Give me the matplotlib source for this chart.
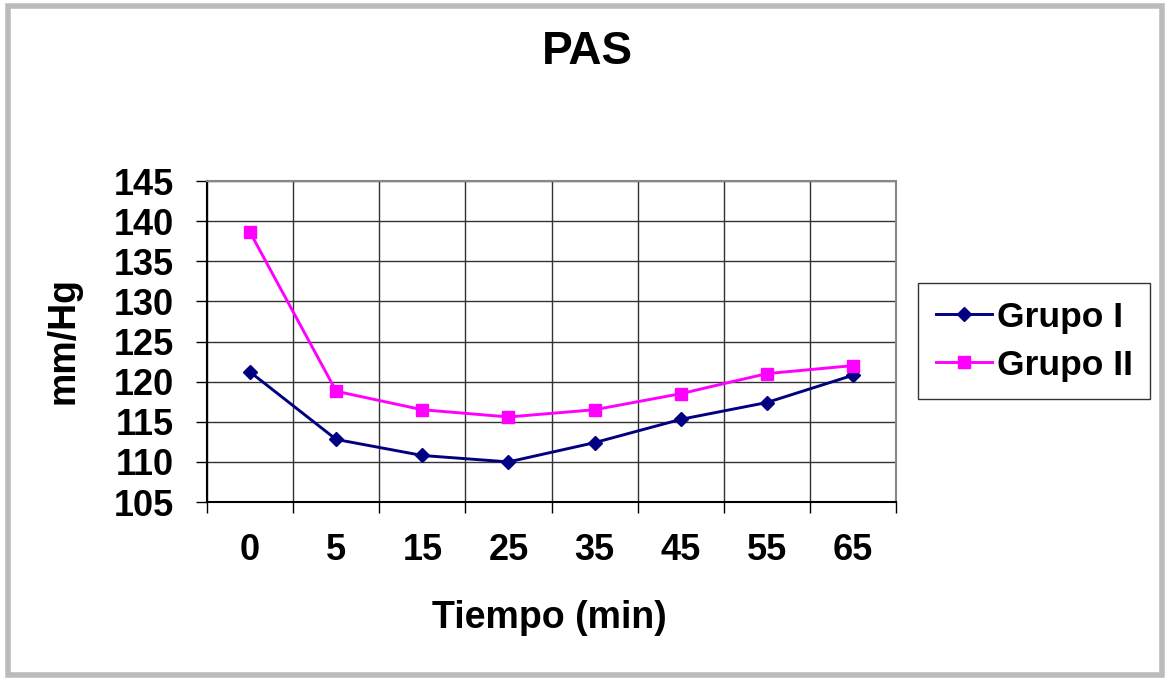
import matplotlib
matplotlib.use("Agg")
import matplotlib.pyplot as plt
from matplotlib.patches import Rectangle

plt.rcParams['font.family'] = ['Liberation Sans', 'DejaVu Sans']
plt.rcParams['font.weight'] = 'bold'

tiempos = ["0", "5", "15", "25", "35", "45", "55", "65"]
grupo1 = [121.2, 112.8, 110.8, 110.0, 112.4, 115.3, 117.4, 120.8]
grupo2 = [138.6, 118.8, 116.5, 115.6, 116.5, 118.5, 121.0, 122.0]
y_ticks = [105, 110, 115, 120, 125, 130, 135, 140, 145]

fig = plt.figure(figsize=(11.67, 6.81), dpi=100)
ax = fig.add_axes([0.1774, 0.2628, 0.5904, 0.4714])

x = list(range(len(tiempos)))
ax.plot(x, grupo1, color='#000080', lw=2.1, marker='D', ms=7.5, label='Grupo I')
ax.plot(x, grupo2, color='#FF00FF', lw=2.1, marker='s', ms=9, label='Grupo II')

ax.set_xlim(-0.5, len(tiempos) - 0.5)
ax.set_ylim(105, 145)
ax.set_yticks(y_ticks)
ax.set_yticklabels([str(v) for v in y_ticks], fontsize=26, fontweight='bold')
ax.set_xticks(x)
ax.set_xticklabels(tiempos, fontsize=26, fontweight='bold')
ax.set_xticks([i - 0.5 for i in range(len(tiempos) + 1)], minor=True)

# ticks between the categories, like the spreadsheet chart
ax.tick_params(axis='x', which='major', length=0, pad=22)
ax.tick_params(axis='x', which='minor', length=8, width=1, direction='out', color='black')
ax.tick_params(axis='y', which='major', length=8, width=1, direction='out', pad=16)

ax.grid(True, axis='y', which='major', color='#333333', lw=1)
ax.grid(True, axis='x', which='minor', color='#333333', lw=1)
ax.set_axisbelow(True)

for side in ['left', 'bottom']:
    ax.spines[side].set_color('black')
    ax.spines[side].set_linewidth(1.5)
for side in ['top', 'right']:
    ax.spines[side].set_color('#888888')
    ax.spines[side].set_linewidth(1.5)

fig.text(63 / 1167, 1 - 341 / 681, "mm/Hg", fontsize=27, fontweight='bold',
         rotation=90, ha='center', va='center')
fig.text(587 / 1167, 1 - 52 / 681, "PAS", fontsize=33, fontweight='bold',
         ha='center', va='center')
fig.text(549 / 1167, 1 - 618 / 681, "Tiempo (min)", fontsize=27, fontweight='bold',
         ha='center', va='center')

leg = fig.legend(loc='upper left', bbox_to_anchor=(918 / 1167, 1 - 283 / 681),
                 fontsize=25.5, frameon=True, fancybox=False, handlelength=1.6,
                 handletextpad=0.12, labelspacing=0.42, borderpad=0.5,
                 borderaxespad=0)
leg.get_frame().set_edgecolor('black')
leg.get_frame().set_linewidth(1)
for t in leg.get_texts():
    t.set_fontweight('bold')

fig.patches.append(Rectangle((8 / 1167, 6 / 681), 1154 / 1167, 669 / 681,
                             transform=fig.transFigure, fill=False,
                             edgecolor='#bbbbbb', lw=4))

fig.savefig("out.png", dpi=100)
